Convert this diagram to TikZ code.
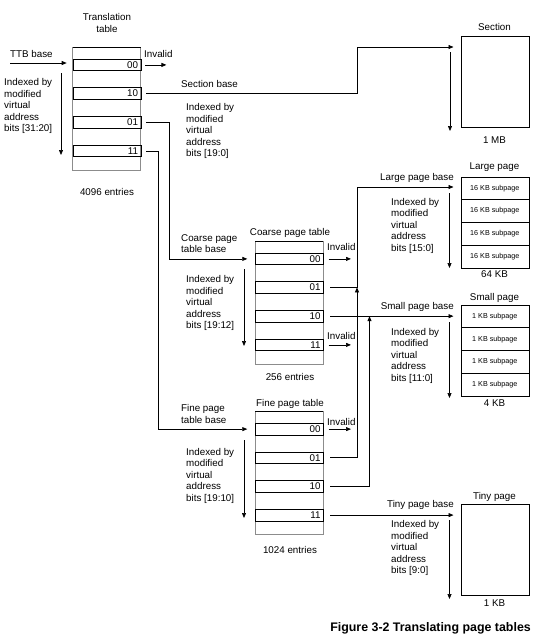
\documentclass[tikz,border=0pt]{standalone}
\usepackage{fontspec}
\setmainfont{Liberation Sans}
\usetikzlibrary{arrows.meta}
\tikzset{
  txt/.style={inner sep=0pt, font=\fontsize{9.8}{11.5}\selectfont},
  idx/.style={txt, align=left, anchor=north west},
  conn/.style={draw, line width=0.7pt},
  arr/.style={-{Triangle[length=5pt,width=4pt]}},
  cell/.style={draw, line width=0.7pt, minimum height=11.5pt, text width=62pt, align=right,
    inner xsep=3pt, inner ysep=0pt, text height=7pt, text depth=0pt, anchor=north west,
    font=\fontsize{9.8}{11.5}\selectfont},
  tbl/.style={draw=black!45, line width=0.7pt},
  pagebox/.style={draw, line width=0.7pt, minimum width=68pt, inner sep=0pt, anchor=north west},
  subrow/.style={pagebox, font=\fontsize{7.2}{8.5}\selectfont},
}
\newcommand{\pagetbl}[7]{%
  \draw[tbl] (#2,#3) rectangle ++(68,123);
  \draw[line width=0.7pt] (#2,#3) -- ++(68,0);
  \node[cell] (#1#4) at (#2,#3+11.5) {#4};
  \node[cell] (#1#5) at (#2,#3+40) {#5};
  \node[cell] (#1#6) at (#2,#3+68.75) {#6};
  \node[cell] (#1#7) at (#2,#3+97.5) {#7};
}
\begin{document}
\begin{tikzpicture}[x=1pt,y=-1pt]
\useasboundingbox (0,0) rectangle (543,641);

% ---------- tables ----------
\pagetbl{tt}{72.7}{47.3}{00}{10}{01}{11}
\pagetbl{cs}{255.3}{241.3}{00}{01}{10}{11}
\pagetbl{fn}{255.3}{411.5}{00}{01}{10}{11}

\node[txt, align=center] (ttlabel) at (107,23) {Translation\\table};
\node[txt] (ttent) at (107,191.5) {4096 entries};
\node[txt] (cslabel) at (290,232.5) {Coarse page table};
\node[txt] (csent) at (290,377) {256 entries};
\node[txt] (fnlabel) at (290,404) {Fine page table};
\node[txt] (fnent) at (290,550) {1024 entries};

% ---------- pages ----------
\node[pagebox, minimum height=91.3pt] (section) at (460.5,36) {};
\node[txt] (seclabel) at (494.5,27) {Section};
\node[txt] (secsize) at (494.5,140) {1 MB};

\foreach \i in {1,...,4}{
  \node[subrow, minimum height=22.7pt] (lp\i) at (460.5,176.7+22.7*\i-22.7) {16 KB subpage};
  \node[subrow, minimum height=22.75pt] (sp\i) at (460.5,304.7+22.75*\i-22.75) {1 KB subpage};
}
\node[txt] (lplabel) at (494.5,167.3) {Large page};
\node[txt] (lpsize) at (494.5,274.5) {64 KB};
\node[txt] (splabel) at (494.5,297.5) {Small page};
\node[txt] (spsize) at (494.5,403) {4 KB};

\node[pagebox, minimum height=91pt] (tiny) at (460.5,504) {};
\node[txt] (tylabel) at (494.5,496.5) {Tiny page};
\node[txt] (tysize) at (494.5,603.5) {1 KB};

% ---------- labels ----------
\node[txt, anchor=west] (ttb) at (10,54) {TTB base};
\node[txt, anchor=west] (inv1) at (144,54) {Invalid};
\node[idx] (ix1) at (4,78.2) {Indexed by\\modified\\virtual\\address\\bits [31:20]};
\node[txt, anchor=west] (secbase) at (181,84) {Section base};
\node[idx] (ix2) at (186,103.5) {Indexed by\\modified\\virtual\\address\\bits [19:0]};
\node[idx] (csbase) at (181,234) {Coarse page\\table base};
\node[txt, anchor=west] (inv2) at (327,247) {Invalid};
\node[idx] (ix3) at (186,275.5) {Indexed by\\modified\\virtual\\address\\bits [19:12]};
\node[txt, anchor=west] (inv3) at (327,336) {Invalid};
\node[idx] (fnbase) at (181,404.5) {Fine page\\table base};
\node[txt, anchor=west] (inv4) at (327,422) {Invalid};
\node[idx] (ix4) at (186,448) {Indexed by\\modified\\virtual\\address\\bits [19:10]};
\node[txt, anchor=east] (lpbase) at (454,178.3) {Large page base};
\node[idx] (ix5) at (391,198) {Indexed by\\modified\\virtual\\address\\bits [15:0]};
\node[txt, anchor=east] (spbase) at (454,306.7) {Small page base};
\node[idx] (ix6) at (391,328) {Indexed by\\modified\\virtual\\address\\bits [11:0]};
\node[txt, anchor=east] (tybase) at (454,505) {Tiny page base};
\node[idx] (ix7) at (391,520.5) {Indexed by\\modified\\virtual\\address\\bits [9:0]};

\node[inner sep=0pt, anchor=east, font=\fontsize{12.4}{14}\selectfont\bfseries] (caption) at (531,628) {Figure 3-2 Translating page tables};

% ---------- bend coordinates ----------
\coordinate (ttbs) at (10,63);
\coordinate (b1) at (357,47);
\coordinate (b2) at (357,187);
\coordinate (b3) at (369.5,0);
\coordinate (b4) at (169,0);
\coordinate (b5) at (158.5,0);

% ---------- connectors ----------
\draw[conn,arr] (ttbs) -- ([xshift=-6pt]ttbs -| tt00.west);
\draw[conn,arr] ([xshift=4pt]tt00.east) -- ([xshift=25pt]tt00.east);
\draw[conn,arr] ([xshift=5pt]tt10.east) -| (b1) -- ([xshift=-7pt]b1 -| section.west);
\draw[conn,arr] ([xshift=5pt]tt01.east) -| (b4 |- cs00.west) -- ([xshift=-8pt]cs00.west);
\draw[conn,arr] ([xshift=5pt]tt11.east) -| (b5 |- fn00.west) -- ([xshift=-8pt]fn00.west);

\draw[conn,arr] ([xshift=4.5pt]cs00.east) -- ([xshift=27pt]cs00.east);
\draw[conn,arr] ([xshift=4.5pt]cs11.east) -- ([xshift=27pt]cs11.east);
\draw[conn,arr] ([xshift=4.5pt]fn00.east) -- ([xshift=27pt]fn00.east);

\draw[conn,arr] ([xshift=6pt]cs01.east) -| (b2) -- ([xshift=-7pt]b2 -| lp1.west);
\draw[conn,arr] ([xshift=6pt]fn01.east) -| (b2 |- cs01.east);
\draw[conn,arr] ([xshift=6pt]cs10.east) -- ([xshift=-7pt]cs10.east -| sp1.west);
\draw[conn,arr] ([xshift=6pt]fn10.east) -| (b3 |- cs10.east);
\draw[conn,arr] ([xshift=6pt]fn11.east) -- ([xshift=-7pt]fn11.east -| tiny.west);

% ---------- index arrows ----------
\coordinate (d1a) at (61,73);   \coordinate (d1b) at (61,155);
\coordinate (d2a) at (450,52);  \coordinate (d2b) at (450,131);
\coordinate (d3a) at (244,269); \coordinate (d3b) at (244,346);
\coordinate (d4a) at (449.5,193); \coordinate (d4b) at (449.5,268);
\coordinate (d5a) at (449.5,322); \coordinate (d5b) at (449.5,398);
\coordinate (d6a) at (244,440); \coordinate (d6b) at (244,518);
\coordinate (d7a) at (449.5,520); \coordinate (d7b) at (449.5,599);
\foreach \k in {1,...,7}{\draw[conn,arr] (d\k a) -- (d\k b);}
\end{tikzpicture}
\end{document}
